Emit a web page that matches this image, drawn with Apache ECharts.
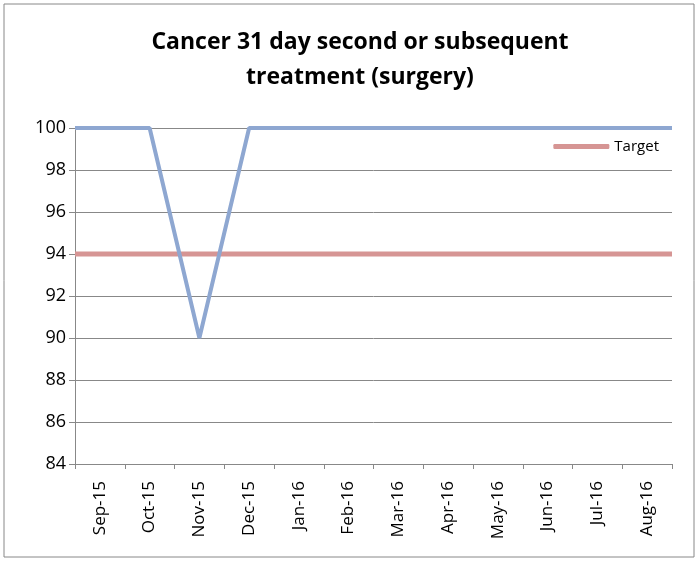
<!DOCTYPE html>
<html>
<head>
<meta charset="utf-8">
<script src="https://cdn.jsdelivr.net/npm/echarts@6/dist/echarts.min.js"></script>
<style>
  html, body { margin: 0; padding: 0; background: #fff; }
  #chart { width: 698px; height: 562px; }
</style>
</head>
<body>
<div id="chart"></div>
<script>
  // months on the category axis
  var months = ['Sep-15', 'Oct-15', 'Nov-15', 'Dec-15', 'Jan-16', 'Feb-16',
                'Mar-16', 'Apr-16', 'May-16', 'Jun-16', 'Jul-16', 'Aug-16'];
  // % treated within 31 days
  var performance = [100, 100, 90, 100, 100, 100, 100, 100, 100, 100, 100, 100];
  var target = [94, 94, 94, 94, 94, 94, 94, 94, 94, 94, 94, 94];
  var yTicks = [84, 86, 88, 90, 92, 94, 96, 98, 100];

  // excel draws the lines right out to the plot edges, so carry the
  // first and last value out to the half-category edges
  function toPoints(vals) {
    var pts = [[-0.5, vals[0]]];
    vals.forEach(function (v, i) { pts.push([i, v]); });
    pts.push([vals.length - 0.5, vals[vals.length - 1]]);
    return pts;
  }

  var font = 'Open Sans';
  var chart = echarts.init(document.getElementById('chart'));

  chart.setOption({
    animation: false,
    title: {
      text: 'Cancer 31 day second or subsequent\ntreatment (surgery)',
      left: 360,
      textAlign: 'center',
      top: 25,
      padding: 0,
      textStyle: { fontFamily: font, fontSize: 23, fontWeight: 'bold', color: '#000', lineHeight: 35 }
    },
    legend: {
      data: ['Target'],
      right: 34,
      top: 134,
      icon: 'roundRect',
      itemWidth: 56,
      itemHeight: 5,
      itemGap: 4,
      textStyle: { fontFamily: font, fontSize: 15, color: '#000' }
    },
    graphic: [{
      type: 'rect',
      shape: { x: 4, y: 4, width: 690, height: 553 },
      style: { fill: 'none', stroke: '#888', lineWidth: 1 },
      silent: true
    }],
    grid: { left: 75, right: 26, top: 128, bottom: 98 },
    xAxis: [{
      type: 'category',
      data: months,
      boundaryGap: true,
      axisLine: { lineStyle: { color: '#888', width: 1 } },
      axisTick: { show: true, length: 5, lineStyle: { color: '#888' } },
      axisLabel: { rotate: 90, margin: 17, fontFamily: font, fontSize: 17, color: '#000' },
      splitLine: { show: false }
    }, {
      type: 'value',
      min: -0.5,
      max: months.length - 0.5,
      show: false
    }],
    yAxis: {
      type: 'value',
      min: yTicks[0],
      max: yTicks[yTicks.length - 1],
      interval: 2,
      axisLine: { show: true, onZero: false, lineStyle: { color: '#888', width: 1 } },
      axisTick: { show: true, length: 6, lineStyle: { color: '#888' } },
      axisLabel: { margin: 9, fontFamily: font, fontSize: 18, color: '#000' },
      splitLine: { lineStyle: { color: '#888', width: 1 } }
    },
    series: [{
      name: 'Performance',
      type: 'line',
      xAxisIndex: 1,
      data: toPoints(performance),
      symbol: 'none',
      lineStyle: { color: '#8EA7D1', width: 4 },
      itemStyle: { color: '#8EA7D1' },
      z: 3
    }, {
      name: 'Target',
      type: 'line',
      xAxisIndex: 1,
      data: toPoints(target),
      symbol: 'none',
      lineStyle: { color: '#D69594', width: 5 },
      itemStyle: { color: '#D69594' },
      z: 2
    }]
  });
</script>
</body>
</html>
